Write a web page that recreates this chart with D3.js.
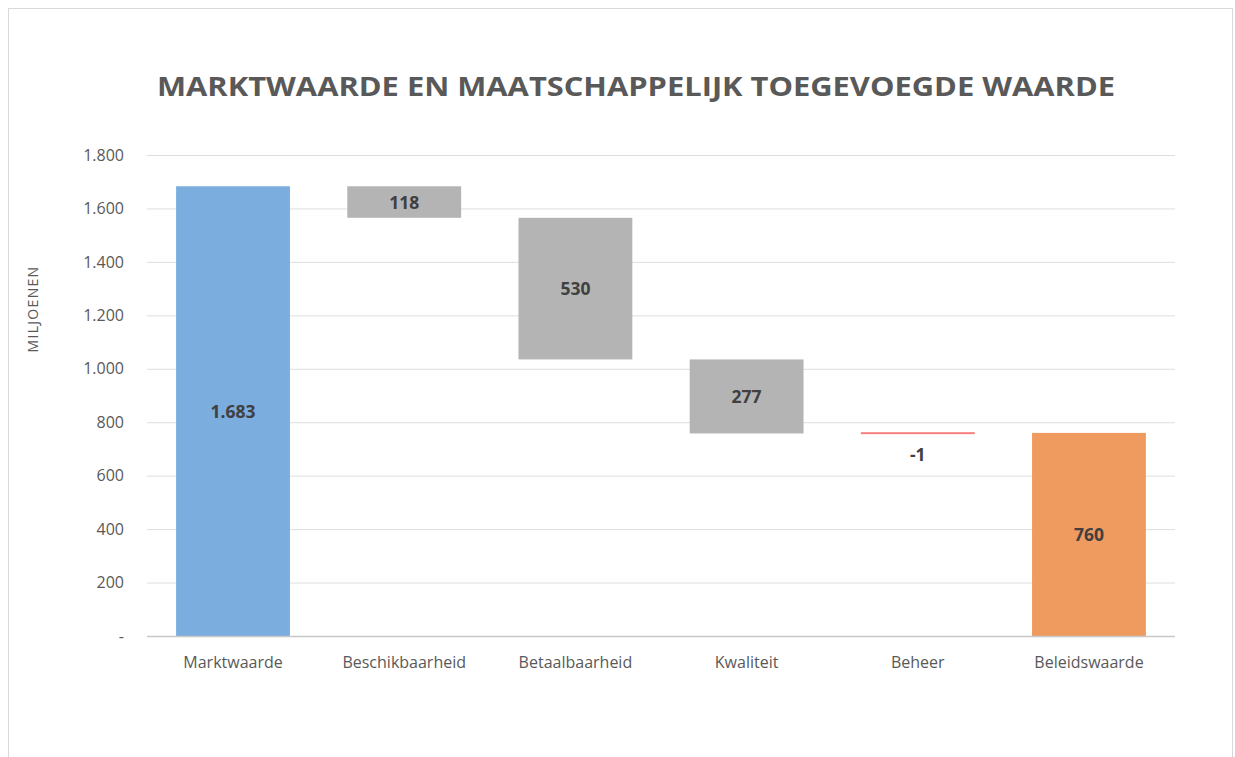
<!DOCTYPE html>
<html><head><meta charset="utf-8">
<script src="https://cdn.jsdelivr.net/npm/d3@7"></script>
<style>body{margin:0;background:#fff}</style>
</head><body>
<svg id="c" width="1235" height="757"></svg>
<script>
const categories = ["Marktwaarde","Beschikbaarheid","Betaalbaarheid","Kwaliteit","Beheer","Beleidswaarde"];
const labels = ["1.683","118","530","277","-1","760"];
// step bars: [low, high]
const lows  = [0, 1565, 1035, 758, 758, 0];
const highs = [1683, 1683, 1565, 1035, 759, 760];
const kinds = ["total","step","step","step","up","total"];
const yTicks = [0,200,400,600,800,1000,1200,1400,1600,1800];
const yTickLabels = ["-","200","400","600","800","1.000","1.200","1.400","1.600","1.800"];
const title = "MARKTWAARDE EN MAATSCHAPPELIJK TOEGEVOEGDE WAARDE";
const yTitle = "MILJOENEN";

const svg = d3.select("#c");
const font = "'Open Sans', 'Liberation Sans', sans-serif";
svg.append("rect").attr("x",8.5).attr("y",8.5).attr("width",1224).attr("height",760)
  .attr("fill","#fff").attr("stroke","#d9d9d9");

const x = d3.scaleBand().domain(categories).range([147,1175]).paddingInner(0.335).paddingOuter(0.17);
const y = d3.scaleLinear().domain([0,1800]).range([636,155]);

svg.append("text").attr("x",636).attr("y",96).attr("text-anchor","middle")
  .attr("font-family",font).attr("font-weight","bold").attr("font-size",27)
  .attr("fill","#595959").attr("textLength",958).attr("lengthAdjust","spacingAndGlyphs").text(title);

// grid
svg.append("g").selectAll("line").data(yTicks.slice(1)).join("line")
  .attr("x1",147).attr("x2",1175).attr("y1",d=>y(d)+0.5).attr("y2",d=>y(d)+0.5)
  .attr("stroke","#dedede").attr("stroke-width",1);

const yAxis = d3.axisLeft(y).tickValues(yTicks).tickFormat((d,i)=>yTickLabels[i]).tickSize(0).tickPadding(0);
const ga = svg.append("g").attr("transform","translate(124,0)").call(yAxis);
ga.select(".domain").remove();
ga.selectAll("text").attr("font-family",font).attr("font-size",16).attr("fill","#595959");

svg.append("text").attr("transform","translate(38,309) rotate(-90)").attr("text-anchor","middle")
  .attr("font-family",font).attr("font-size",14).attr("letter-spacing",1.3).attr("fill","#595959").text(yTitle);

const colorOf = k => k==="step" ? "#b4b4b4" : k==="up" ? "#f77f7f" : null;
const totalColors = {"Marktwaarde":"#7badde","Beleidswaarde":"#ef9a5e"};

const data = categories.map((c,i)=>({c, lo:lows[i], hi:highs[i], k:kinds[i], lab:labels[i]}));
svg.append("g").selectAll("rect").data(data).join("rect")
  .attr("x",d=>x(d.c)).attr("width",x.bandwidth())
  .attr("y",d=> d.k==="up" ? y(d.hi)-1 : y(d.hi))
  .attr("height",d=> d.k==="up" ? 2 : y(d.lo)-y(d.hi))
  .attr("fill",d=> d.k==="total" ? totalColors[d.c] : colorOf(d.k));

// baseline
svg.append("line").attr("x1",147).attr("x2",1175).attr("y1",636.5).attr("y2",636.5)
  .attr("stroke","#c8c8c8").attr("stroke-width",1.5);

const xAxis = d3.axisBottom(x).tickSize(0).tickPadding(0);
const gx = svg.append("g").attr("transform","translate(0,668)").call(xAxis);
gx.select(".domain").remove();
gx.selectAll("text").attr("font-family",font).attr("font-size",16).attr("fill","#595959").attr("dy",0);

svg.append("g").selectAll("text").data(data).join("text")
  .attr("x",d=>x(d.c)+x.bandwidth()/2)
  .attr("y",d=> d.k==="up" ? y(d.lo)+28 : (y(d.lo)+y(d.hi))/2 + 6.5)
  .attr("text-anchor","middle").attr("font-family",font).attr("font-weight","bold")
  .attr("font-size",17.5).attr("fill","#404040").text(d=>d.lab);
</script>
</body></html>
